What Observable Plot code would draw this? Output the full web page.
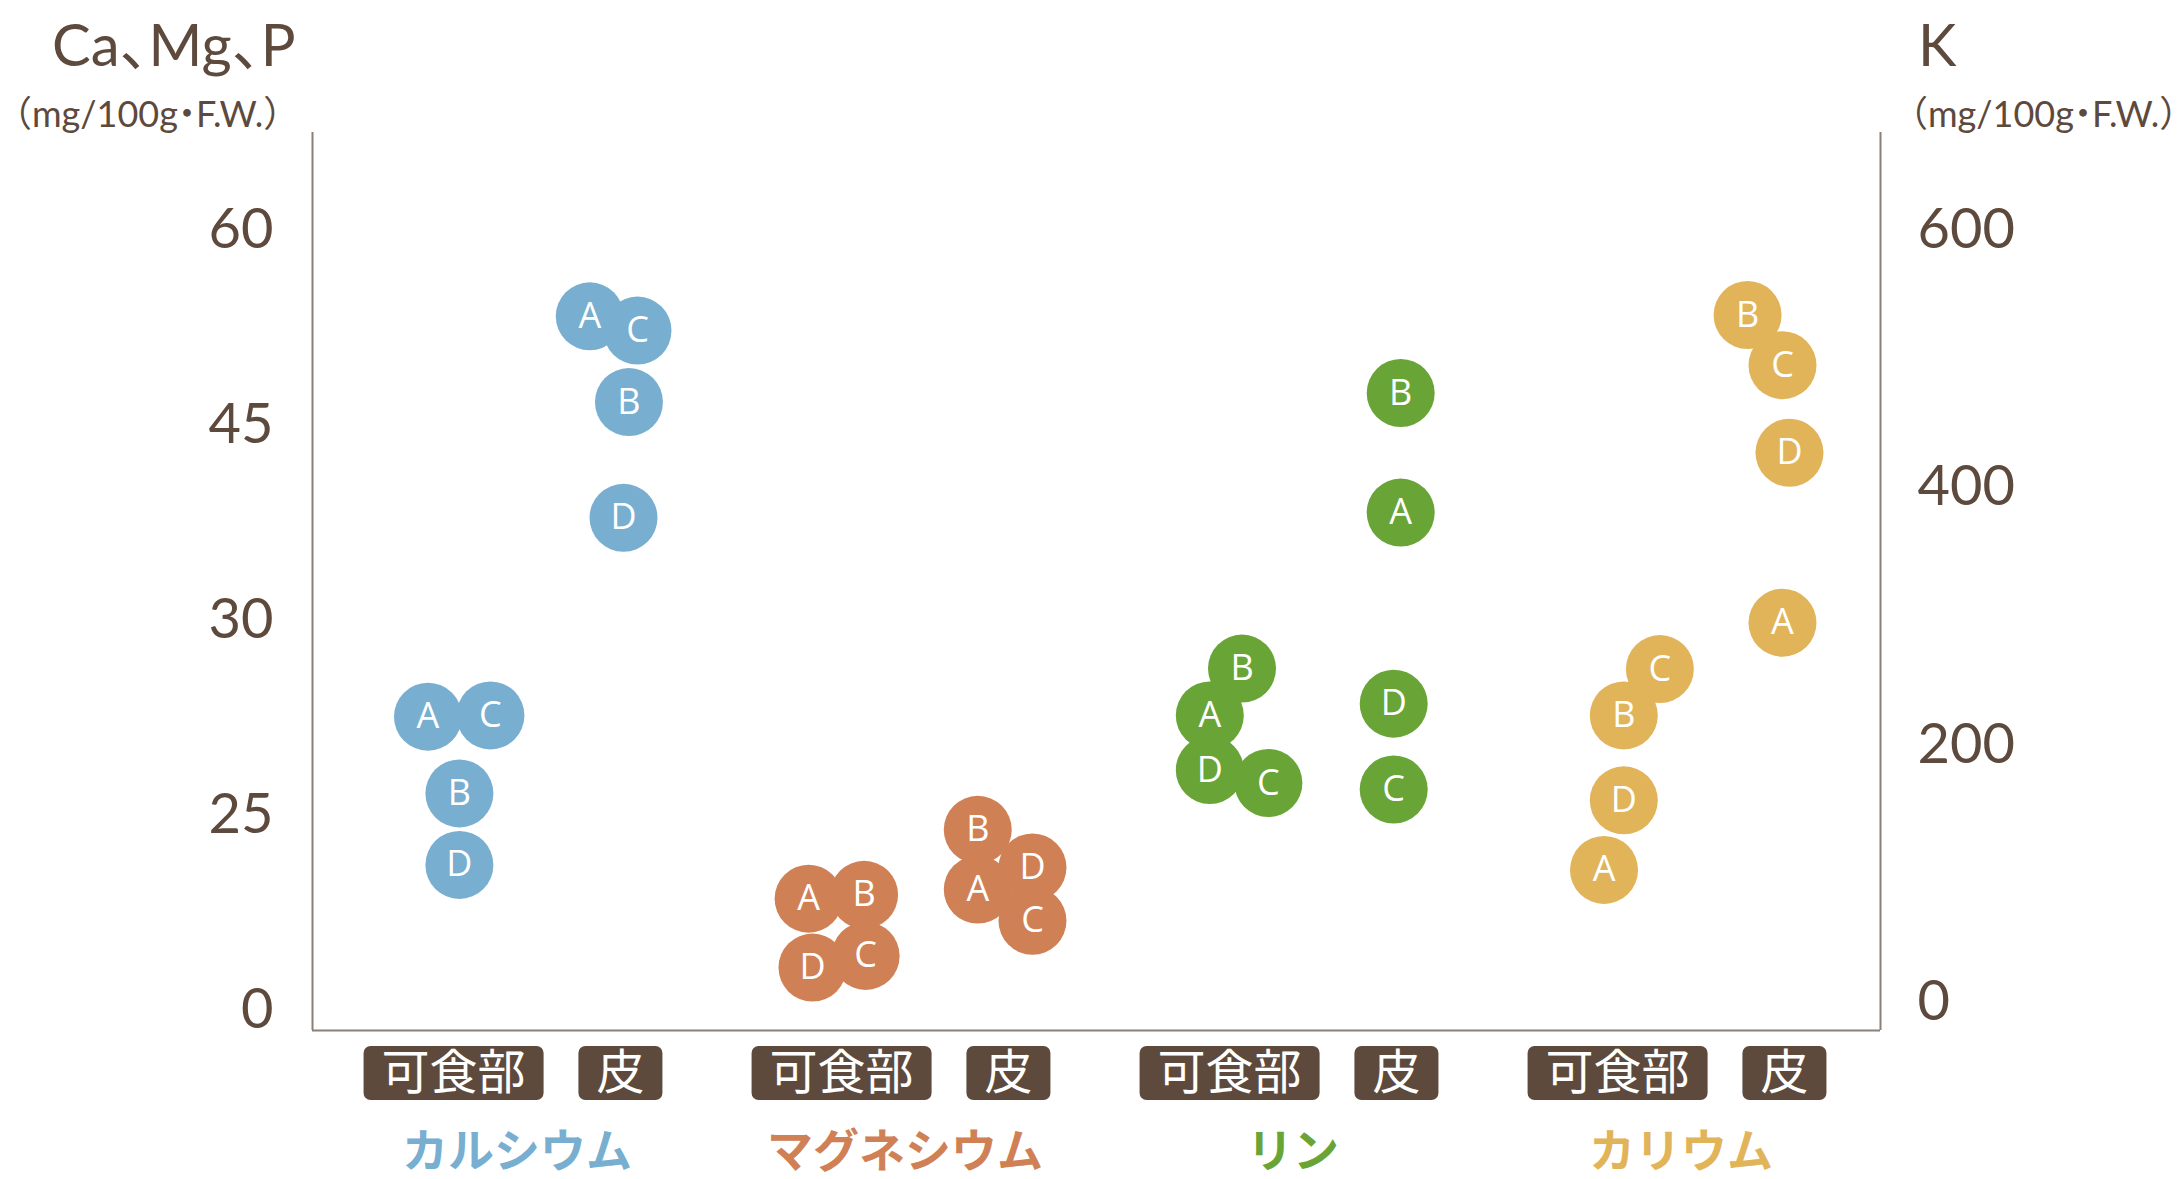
<!DOCTYPE html>
<html>
<head>
<meta charset="utf-8">
<script src="https://cdn.jsdelivr.net/npm/d3@7"></script>
<script src="https://cdn.jsdelivr.net/npm/@observablehq/plot@0.6"></script>
<style>
  html, body { margin: 0; padding: 0; background: #ffffff; }
  #page { position: relative; width: 2184px; height: 1179px; overflow: hidden; }
  #header { position: relative; width: 2184px; height: 132px; color: #5d4a3d; font-family: Lato, "Noto Sans CJK JP", sans-serif; }
  .t { position: absolute; white-space: nowrap; line-height: 1; font-feature-settings: "halt"; }
  .big { font-size: 58px; }
  .unit { font-size: 36px; }
</style>
</head>
<body>
<div id="page">
  <div id="header">
    <span class="t big" style="left:52px; top:15px;">Ca、Mg、P</span>
    <span class="t unit" style="left:14px; top:95px;">（mg/100g・F.W.）</span>
    <span class="t big" style="left:1918px; top:15px;">K</span>
    <span class="t unit" style="left:1910px; top:95px;">（mg/100g・F.W.）</span>
  </div>
  <div id="chart"></div>
</div>
<script>
// ---- Data ----
const nutrients = ["カルシウム", "マグネシウム", "リン", "カリウム"];
const parts = ["可食部", "皮"];
const samples = ["A", "B", "C", "D"];
const colors = ["#78aed0", "#d08055", "#69a436", "#e1b45a"];

// Left axis (Ca, Mg, P): tick positions and their printed labels
const leftTicks = [0, 15, 30, 45, 60];
const leftTickLabels = ["0", "25", "30", "45", "60"];
// Right axis (K)
const kTicks = [0, 200, 400, 600];

// values per sample A, B, C, D
const caEdible = [22.6, 16.7, 22.7, 11.2];
const caPeel   = [53.4, 46.8, 52.3, 37.9];
const mgEdible = [8.6, 8.9, 4.2, 3.3];
const mgPeel   = [9.3, 13.9, 6.9, 11.0];
const pEdible  = [22.7, 26.3, 17.5, 18.5];
const pPeel    = [38.3, 47.5, 17.0, 23.6];
const kEdible  = [103, 223, 259, 157];   // K, mg/100g
const kPeel    = [295, 534, 495, 427];

// horizontal spread of the circles inside each column (group units), A, B, C, D
const caEdibleJit = [-0.066, 0.015, 0.095, 0.015];
const caPeelJit   = [-0.079, 0.022, 0.044, 0.008];
const mgEdibleJit = [-0.085, 0.058, 0.062, -0.075];
const mgPeelJit   = [-0.079, -0.079, 0.062, 0.062];
const pEdibleJit  = [-0.051, 0.032, 0.100, -0.051];
const pPeelJit    = [0.011, 0.011, -0.007, -0.007];
const kEdibleJit  = [-0.035, 0.016, 0.109, 0.016];
const kPeelJit    = [-0.005, -0.095, -0.005, 0.013];

// ---- Build table ----
const values = [[caEdible, caPeel], [mgEdible, mgPeel], [pEdible, pPeel], [kEdible, kPeel]];
const jitters = [[caEdibleJit, caPeelJit], [mgEdibleJit, mgPeelJit], [pEdibleJit, pPeelJit], [kEdibleJit, kPeelJit]];
const partOffset = [-0.215, 0.215];
// K is drawn against the right axis: map K onto the left-axis units
const kToY = k => 0.615 + k * 0.09904;

const rows = [];
nutrients.forEach((n, i) => {
  parts.forEach((p, j) => {
    samples.forEach((s, k) => {
      const v = values[i][j][k];
      rows.push({
        nutrient: n, ni: i, part: p, sample: s, value: v,
        x: i + partOffset[j] + jitters[i][j][k],
        y: i === 3 ? kToY(v) : v
      });
    });
  });
});
const columns = [];
nutrients.forEach((n, i) => parts.forEach((p, j) => columns.push({nutrient: n, part: p, x: i + partOffset[j]})));
const groups = nutrients.map((n, i) => ({nutrient: n, x: i, color: colors[i]}));

// ---- Layout ----
const W = 2184, H = 1047;
const marginLeft = 312, marginRight = 304, marginBottom = 149;
const xDomain = [-0.5786, 3.4626];
const yDomain = [-1.538, 67.54];
const ink = "#5d4a3d";
const lineColor = "#8c7f76";
const boxDy = 43, boxH = 54, boxPadX = 18;

const marks = [
  Plot.ruleY([yDomain[0]], {stroke: lineColor, strokeWidth: 2}),
  Plot.ruleX([xDomain[0], xDomain[1]], {y1: yDomain[0], y2: yDomain[1], stroke: lineColor, strokeWidth: 2}),
  Plot.axisY(leftTicks, {anchor: "left", tickSize: 0, tickPadding: 39, fontSize: 56, label: null,
    tickFormat: d => leftTickLabels[leftTicks.indexOf(d)]}),
  Plot.axisY(kTicks.map(kToY), {anchor: "right", tickSize: 0, tickPadding: 37, fontSize: 56, label: null,
    tickFormat: (d, i) => String(kTicks[i])})
];
nutrients.forEach((n, i) => {
  marks.push(Plot.dot(rows.filter(d => d.ni === i), {x: "x", y: "y", r: 34, fill: colors[i], stroke: "none"}));
});
marks.push(Plot.text(rows, {x: "x", y: "y", text: "sample", fill: "white", fontSize: 36, fontWeight: 500,
  fontFamily: "'Open Sans', 'Noto Sans', sans-serif"}));
marks.push(Plot.text(columns, {x: "x", text: "part", frameAnchor: "bottom", dy: boxDy, lineAnchor: "middle",
  fill: "white", fontSize: 48, fontFamily: "'Noto Sans CJK JP', sans-serif"}));
marks.push(Plot.text(groups, {x: "x", text: "nutrient", frameAnchor: "bottom", dy: 122, dx: -20, lineAnchor: "middle",
  fill: d => d.color, fontSize: 46, fontWeight: "bold", fontFamily: "'Noto Sans CJK JP', sans-serif"}));

const chart = Plot.plot({
  width: W, height: H,
  marginTop: 0, marginLeft, marginRight, marginBottom,
  x: {domain: xDomain, axis: null},
  y: {domain: yDomain, axis: null},
  color: {type: "identity"},
  style: {background: "white", color: ink, fontFamily: "Lato, 'Noto Sans CJK JP', sans-serif", overflow: "visible"},
  marks
});
document.getElementById("chart").append(chart);

// rounded dark boxes behind the part labels
const svg = chart.tagName.toLowerCase() === "svg" ? chart : chart.querySelector("svg");
const sr = svg.getBoundingClientRect();
const ns = "http://www.w3.org/2000/svg";
const partTexts = Array.from(svg.querySelectorAll("text")).filter(t => parts.includes(t.textContent.trim()));
if (partTexts.length) {
  const tg = partTexts[0].parentNode;
  const bg = document.createElementNS(ns, "g");
  const cy = H - marginBottom + boxDy;
  partTexts.forEach(t => {
    const b = t.getBoundingClientRect();
    const r = document.createElementNS(ns, "rect");
    r.setAttribute("x", b.x - sr.x - boxPadX);
    r.setAttribute("width", b.width + 2 * boxPadX);
    r.setAttribute("y", cy - boxH / 2);
    r.setAttribute("height", boxH);
    r.setAttribute("rx", 7);
    r.setAttribute("fill", ink);
    bg.appendChild(r);
  });
  tg.parentNode.insertBefore(bg, tg);
}
</script>
</body>
</html>
